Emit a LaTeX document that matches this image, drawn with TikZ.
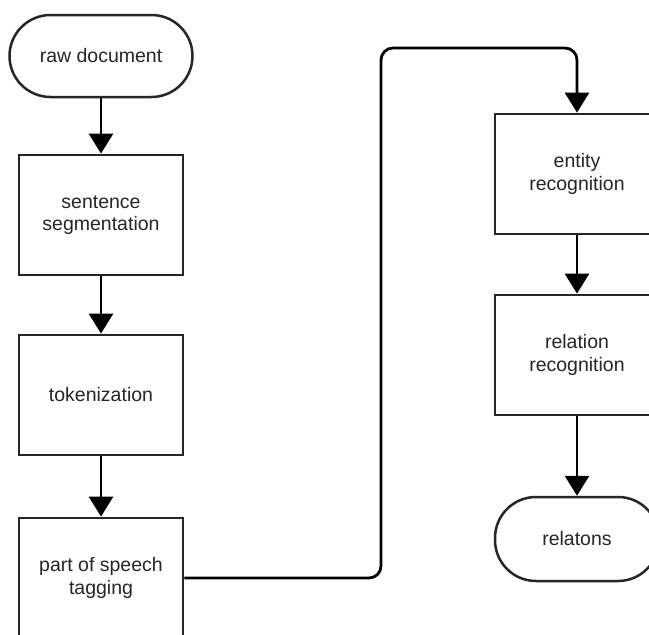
\documentclass[tikz,border=0pt]{standalone}
\usepackage{fontspec}
\setmainfont{Liberation Sans}
\usetikzlibrary{arrows.meta}
\begin{document}
\begin{tikzpicture}[x=1pt,y=1pt,
  every node/.style={font=\fontsize{19.5}{22.5}\selectfont, text=black!85, align=center},
  procbox/.style={draw=black!85, line width=2.8pt, fill=white, minimum width=164pt, minimum height=120pt, inner sep=0pt},
  termbox/.style={draw=black!85, line width=2.5pt, fill=white, rounded corners=41pt, minimum height=82pt, inner sep=0pt},
  arr/.style={draw=black, line width=2.8pt, -{Triangle[length=20pt,width=24pt]}}]
\useasboundingbox (0,0) rectangle (649,-635);
\clip (0,0) rectangle (649,-635);
\fill[white] (0,0) rectangle (649,-635);
\node[termbox, minimum width=183pt] (raw) at (101,-56) {raw document};
\node[procbox] (seg) at (101,-215) {sentence\\segmentation};
\node[procbox] (tok) at (101,-395) {tokenization};
\node[procbox] (pos) at (101,-578) {part of speech\\tagging};
\node[procbox] (ent) at (577,-174) {entity\\recognition};
\node[procbox] (rel) at (577,-355) {relation\\recognition};
\node[termbox, minimum width=164pt, minimum height=84pt] (out) at (577,-539) {relatons};
\coordinate (c1) at (381,-48);
\draw[arr] (raw) -- (seg);
\draw[arr] (seg) -- (tok);
\draw[arr] (tok) -- (pos);
\draw[arr, rounded corners=12pt] (pos.east) -| (c1) -| (ent.north);
\draw[arr] (ent) -- (rel);
\draw[arr] (rel) -- (out);
\end{tikzpicture}
\end{document}
